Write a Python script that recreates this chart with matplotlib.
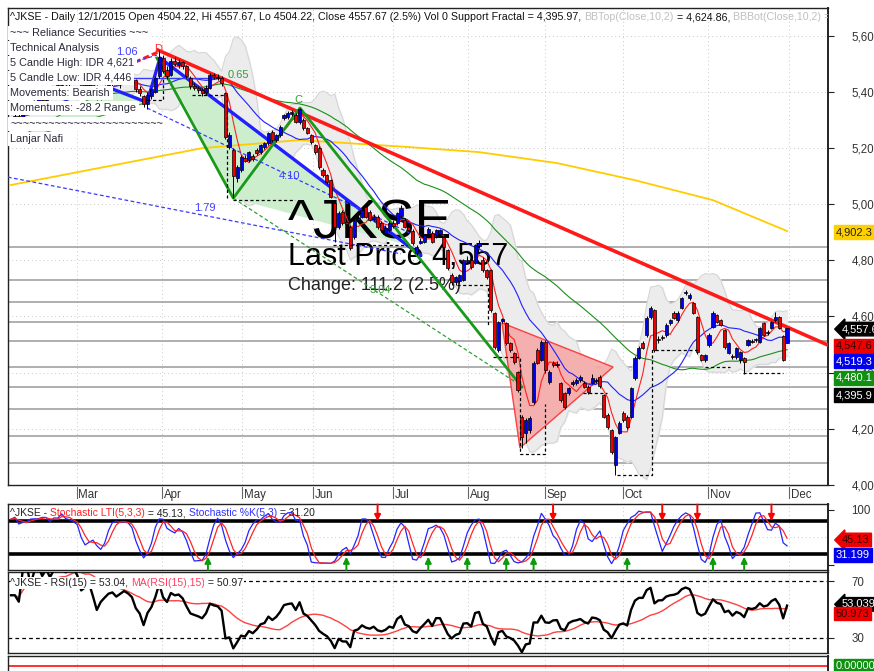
import matplotlib
matplotlib.use("Agg")
import matplotlib.pyplot as plt
import matplotlib.transforms as mtrans
import numpy as np
import pandas as pd

plt.rcParams['font.family'] = ['Liberation Sans', 'DejaVu Sans']

# ---- daily bars, ^JKSE Feb .. 1 Dec 2015 ----
opens = [5285, 5295, 5315, 5300, 5330, 5345, 5330, 5365, 5380, 5370,
         5395, 5385, 5415, 5425, 5440, 5430, 5445, 5450, 5440, 5415,
         5425, 5440, 5415, 5380, 5405, 5420, 5435, 5440, 5430, 5440,
         5450, 5450, 5440, 5410, 5385, 5355, 5385, 5400, 5455, 5520,
         5478, 5460, 5510, 5495, 5505, 5490, 5450, 5420, 5412, 5405,
         5400, 5415, 5458, 5452, 5448, 5395, 5203, 5192, 5093, 5121,
         5165, 5157, 5170, 5192, 5185, 5202, 5217, 5256, 5228, 5245,
         5306, 5310, 5320, 5317, 5292, 5300, 5270, 5245, 5210, 5200,
         5121, 5103, 5085, 5004, 4918, 4972, 4935, 4918, 4883, 4945,
         4954, 4990, 4972, 4948, 4954, 4932, 4897, 4907, 4932, 4932,
         4958, 4945, 4918, 4905, 4826, 4862, 4865, 4898, 4897, 4890,
         4893, 4883, 4836, 4747, 4722, 4725, 4730, 4795, 4800, 4790,
         4850, 4800, 4765, 4765, 4612, 4480, 4585, 4577, 4505, 4470,
         4402, 4242, 4185, 4196, 4295, 4480, 4445, 4509, 4366, 4434,
         4427, 4363, 4327, 4327, 4360, 4363, 4373, 4363, 4349, 4363,
         4370, 4384, 4320, 4249, 4196, 4071, 4185, 4256, 4242, 4242,
         4381, 4452, 4505, 4534, 4598, 4623, 4515, 4528, 4534, 4577,
         4612, 4587, 4630, 4683, 4665, 4648, 4598, 4462, 4445, 4498,
         4562, 4605, 4587, 4552, 4470, 4458, 4455, 4445, 4452, 4498,
         4512, 4515, 4509, 4577, 4540, 4559, 4587, 4598, 4530, 4504.22]
highs = [5300, 5320, 5330, 5335, 5350, 5355, 5370, 5385, 5390, 5400,
         5410, 5420, 5430, 5445, 5455, 5450, 5460, 5465, 5450, 5430,
         5445, 5450, 5425, 5410, 5425, 5440, 5450, 5455, 5445, 5455,
         5460, 5458, 5445, 5420, 5390, 5400, 5415, 5455, 5548, 5530,
         5490, 5520, 5525, 5515, 5510, 5495, 5455, 5430, 5420, 5415,
         5425, 5465, 5465, 5462, 5455, 5400, 5255, 5200, 5140, 5175,
         5175, 5190, 5180, 5198, 5215, 5222, 5258, 5262, 5250, 5280,
         5320, 5330, 5335, 5325, 5342, 5305, 5275, 5250, 5215, 5205,
         5128, 5108, 5090, 5010, 4975, 4980, 4945, 4925, 4950, 4965,
         4985, 4995, 4978, 4965, 4962, 4940, 4925, 4938, 4945, 4972,
         4995, 4952, 4925, 4912, 4855, 4880, 4895, 4920, 4905, 4912,
         4912, 4890, 4840, 4755, 4745, 4752, 4805, 4815, 4810, 4858,
         4872, 4810, 4770, 4768, 4615, 4585, 4595, 4582, 4510, 4475,
         4405, 4250, 4240, 4245, 4440, 4488, 4515, 4515, 4408, 4440,
         4440, 4368, 4332, 4350, 4372, 4380, 4392, 4370, 4355, 4395,
         4380, 4390, 4325, 4255, 4200, 4175, 4228, 4262, 4248, 4350,
         4458, 4495, 4512, 4600, 4636, 4628, 4530, 4535, 4575, 4592,
         4618, 4618, 4670, 4695, 4682, 4652, 4602, 4466, 4468, 4540,
         4618, 4610, 4592, 4556, 4510, 4465, 4492, 4478, 4456, 4520,
         4518, 4525, 4562, 4582, 4550, 4584, 4616, 4603, 4535, 4557.67]
lows = [5270, 5285, 5290, 5295, 5320, 5320, 5325, 5355, 5360, 5365,
        5380, 5380, 5400, 5415, 5425, 5420, 5435, 5435, 5405, 5395,
        5420, 5410, 5370, 5370, 5395, 5410, 5420, 5425, 5415, 5430,
        5435, 5430, 5400, 5385, 5345, 5340, 5375, 5395, 5450, 5465,
        5445, 5455, 5490, 5485, 5480, 5450, 5410, 5405, 5395, 5385,
        5390, 5410, 5445, 5440, 5420, 5230, 5195, 5021, 5080, 5115,
        5150, 5150, 5155, 5175, 5180, 5196, 5210, 5222, 5220, 5240,
        5300, 5302, 5312, 5288, 5286, 5265, 5248, 5215, 5180, 5125,
        5098, 5072, 5020, 4865, 4910, 4925, 4920, 4835, 4875, 4940,
        4950, 4950, 4938, 4940, 4912, 4902, 4890, 4900, 4915, 4925,
        4950, 4915, 4902, 4855, 4818, 4858, 4860, 4890, 4860, 4880,
        4885, 4842, 4765, 4712, 4712, 4718, 4725, 4790, 4770, 4785,
        4845, 4760, 4735, 4615, 4485, 4475, 4575, 4500, 4475, 4430,
        4330, 4130, 4150, 4185, 4290, 4430, 4440, 4400, 4360, 4420,
        4420, 4295, 4270, 4320, 4352, 4355, 4368, 4345, 4325, 4358,
        4362, 4345, 4238, 4200, 4112, 4036, 4180, 4225, 4200, 4238,
        4375, 4448, 4484, 4528, 4592, 4475, 4505, 4515, 4528, 4570,
        4590, 4582, 4625, 4678, 4660, 4608, 4468, 4440, 4438, 4492,
        4558, 4575, 4565, 4485, 4465, 4448, 4450, 4435, 4396, 4494,
        4505, 4510, 4505, 4530, 4535, 4555, 4582, 4555, 4440, 4504.22]
closes = [5295, 5315, 5300, 5330, 5345, 5330, 5365, 5380, 5370, 5395,
          5385, 5415, 5425, 5440, 5430, 5445, 5450, 5440, 5415, 5425,
          5440, 5415, 5380, 5405, 5420, 5435, 5440, 5430, 5440, 5450,
          5445, 5437, 5410, 5395, 5355, 5390, 5410, 5450, 5525, 5475,
          5455, 5510, 5500, 5505, 5490, 5455, 5420, 5412, 5405, 5395,
          5415, 5459, 5452, 5448, 5430, 5240, 5245, 5100, 5132, 5167,
          5155, 5185, 5162, 5182, 5210, 5217, 5253, 5228, 5245, 5274,
          5317, 5324, 5328, 5292, 5340, 5270, 5253, 5220, 5185, 5132,
          5103, 5078, 5025, 4918, 4968, 4932, 4930, 4843, 4943, 4952,
          4979, 4954, 4943, 4955, 4918, 4907, 4915, 4932, 4922, 4968,
          4985, 4920, 4907, 4862, 4847, 4870, 4890, 4912, 4865, 4907,
          4907, 4847, 4772, 4722, 4740, 4747, 4800, 4802, 4775, 4854,
          4861, 4765, 4740, 4622, 4491, 4580, 4590, 4505, 4480, 4438,
          4338, 4170, 4231, 4238, 4434, 4434, 4509, 4409, 4402, 4427,
          4430, 4302, 4278, 4345, 4365, 4373, 4384, 4349, 4331, 4380,
          4373, 4352, 4242, 4206, 4117, 4171, 4221, 4231, 4206, 4345,
          4452, 4488, 4488, 4594, 4630, 4480, 4520, 4522, 4570, 4587,
          4594, 4612, 4665, 4687, 4676, 4612, 4473, 4445, 4462, 4534,
          4612, 4580, 4569, 4491, 4505, 4455, 4488, 4473, 4438, 4516,
          4508, 4520, 4559, 4534, 4543, 4580, 4598, 4559, 4446.5, 4557.67]

month_labels = ["Mar", "Apr", "May", "Jun", "Jul", "Aug", "Sep", "Oct", "Nov", "Dec"]
month_pos = [16.8, 38.6, 59.2, 77.4, 97.9, 117.2, 136.9, 156.9, 178.7, 199.6]
price_ticks = [4000, 4200, 4400, 4600, 4800, 5000, 5200, 5400, 5600]

# long moving average (yellow), read at a few bars
yellow_bar = [0, 49, 74, 102, 120, 140, 160, 180, 199]
yellow_val = [5068, 5199, 5228, 5203, 5185, 5146, 5085, 5014, 4904]

# support / resistance levels (grey)
level_prices = [4847, 4730, 4651, 4580, 4512, 4420, 4349, 4270, 4174, 4078]

# harmonic pattern drawing (bar, price)
red_trend = [(37.7, 5548), (209.5, 4498)]
red_short = [(31.8, 5505), (37.7, 5541)]
blue_thick = [(25.4, 5413), (34.9, 5362), (38.2, 5520), (105, 4818)]
blue_flat = [(31.3, 5448), (53.6, 5448)]
green_thick = [(37.4, 5520), (57, 5021), (74.1, 5342), (131, 4349)]
green_tri1 = [(-1, 5215), (25.4, 5413), (34.9, 5362)]
green_tri2 = [(38.2, 5520), (57, 5021), (100, 4860)]
blue_dash = [[(-0.8, 5096), (100, 4823)], [(34.9, 5342), (102.3, 4897)],
             [(26, 5484), (37.4, 5530)]]
green_dash = [[(57, 5021), (130.5, 4356)]]
red_tri = [(125.9, 4577), (130.5, 4132), (154.4, 4420)]
ratio_labels = [("1.06", 29.7, 5541, "#4040ff"), ("D", 37.6, 5552, "#ff3030"),
                ("0.65", 58.4, 5459, "#33a033"), ("C", 73.6, 5372, "#33a033"),
                ("4.10", 71.5, 5100, "#4040ff"), ("1.79", 49.7, 4986, "#4040ff"),
                ("3.04", 94.6, 4694, "#33a033")]

# 5 candle support fractal steps (dashed black)
fractal_steps = [
    [(34.9, 5370), (39, 5370), (39, 5448)],
    [(46.4, 5388), (55.4, 5388), (55.4, 5021)],
    [(57, 5014), (72.8, 5014)],
    [(82.6, 4854), (101.5, 4854)],
    [(114.4, 4712), (122.3, 4712), (122.3, 4570)],
    [(123.6, 4455), (130.5, 4455), (130.5, 4110), (137, 4110), (137, 4290)],
    [(146.7, 4327), (152.8, 4327)],
    [(155.4, 4036), (164.4, 4036), (164.4, 4480), (176.7, 4480)],
    [(178, 4420), (184.4, 4420)],
    [(187.7, 4398), (198, 4398)],
]

sell_arrows = [94, 139, 167, 176, 195]
buy_arrows = [50.5, 86, 107, 117, 127, 134, 158, 180, 188]

# ---- indicators ----
df = pd.DataFrame({"o": opens, "h": highs, "l": lows, "c": closes})
n = len(df)
x = np.arange(n)
ma5 = df.c.rolling(5, min_periods=1).mean()
ma20 = df.c.rolling(20, min_periods=1).mean()
ma50 = df.c.rolling(50, min_periods=1).mean()
bb_mid = df.c.rolling(10, min_periods=1).mean()
bb_sd = df.c.rolling(10, min_periods=2).std(ddof=0).bfill()
bb_top = bb_mid + 2 * bb_sd
bb_bot = bb_mid - 2 * bb_sd

ll = df.l.rolling(5, min_periods=1).min()
hh = df.h.rolling(5, min_periods=1).max()
raw_k = 100 * (df.c - ll) / (hh - ll)
stoch_k = raw_k.rolling(3, min_periods=1).mean()
stoch_d = stoch_k.rolling(3, min_periods=1).mean()

delta = df.c.diff().fillna(0)
gain = delta.clip(lower=0).ewm(alpha=1 / 15, adjust=False).mean()
loss = (-delta.clip(upper=0)).ewm(alpha=1 / 15, adjust=False).mean()
rsi = 100 - 100 / (1 + gain / loss.replace(0, np.nan))
rsi = rsi.fillna(60)
rsi_ma = rsi.rolling(15, min_periods=1).mean()

# ---- layout (pixel boxes) ----
W, H = 874, 671
fig = plt.figure(figsize=(W / 100, H / 100), dpi=100)


def box(l, t, r, b):
    return [l / W, 1 - b / H, (r - l) / W, (b - t) / H]


ax = fig.add_axes(box(8, 8, 828, 485))
ax_st = fig.add_axes(box(8, 504, 828, 570))
ax_rsi = fig.add_axes(box(8, 572, 828, 653))
ax_b = fig.add_axes(box(8, 656, 828, 690))

XL = (-0.77, 209.5)
for a in (ax, ax_st, ax_rsi, ax_b):
    a.set_xlim(*XL)
    a.set_xticks([])
    a.yaxis.tick_right()
    for s in a.spines.values():
        s.set_color("#222222")
        s.set_linewidth(1.0)
    a.spines["right"].set_linewidth(1.4)
    for mp in month_pos:
        a.axvline(mp, color="#c8c8c8", lw=0.7, ls=(0, (1, 3)), zorder=0)
    a.tick_params(axis="y", length=4, width=0.8, pad=13, labelsize=8.3,
                  labelcolor="#333333", color="#222222")

# ---- main price panel ----
ax.set_ylim(4000, 5698)
ax.set_yticks(price_ticks)
ax.set_yticklabels([f"{p:,}" for p in price_ticks])
for p in price_ticks:
    ax.axhline(p, color="#c8c8c8", lw=0.7, ls=(0, (1, 3)), zorder=0)
for lp in level_prices:
    ax.axhline(lp, color="#9a9a9a", lw=1.1, zorder=1)

ax.fill_between(x, bb_bot, bb_top, color="#ececec", zorder=1)
ax.plot(x, bb_top, color="#d4d4d4", lw=0.7, zorder=1)
ax.plot(x, bb_bot, color="#d4d4d4", lw=0.7, zorder=1)

ax.add_patch(plt.Polygon(green_tri1, closed=True, fc="#cdeecd", ec="#2ea02e", lw=0.8, zorder=1.5))
ax.add_patch(plt.Polygon(green_tri2, closed=True, fc="#cdeecd", ec="none", zorder=1.5))
ax.add_patch(plt.Polygon(red_tri, closed=True, fc="#f6a9a9", ec="#ff3030", lw=1.0, alpha=0.9, zorder=1.5))

ax.text(71, 4879, "^JKSE", fontsize=40, color="black", zorder=2)
ax.text(71, 4783, "Last Price 4,557", fontsize=22, color="black", zorder=2)
ax.text(71, 4694, "Change: 111.2 (2.5%)", fontsize=13, color="#222222", zorder=2)

ax.plot(yellow_bar, yellow_val, color="#ffcc00", lw=1.3, zorder=2.5)
ax.plot(x, ma50, color="#1a8f1a", lw=0.8, zorder=2.6)
ax.plot(x, ma20, color="#2020ff", lw=0.8, zorder=2.6)
ax.plot(x, ma5, color="#ff2020", lw=0.8, zorder=2.6)


def seg(pts, **kw):
    xs, ys = zip(*pts)
    ax.plot(xs, ys, **kw)


seg(red_trend, color="#ff1a1a", lw=2.6, zorder=3)
seg(red_short, color="#ff1a1a", lw=2.2, ls=(0, (2, 1)), zorder=3)
seg(blue_thick, color="#1f1fff", lw=2.4, zorder=3)
seg(blue_flat, color="#3a3aff", lw=1.0, zorder=3)
seg(green_thick, color="#1a9a1a", lw=2.0, zorder=3)
for pts in blue_dash:
    seg(pts, color="#3a3aff", lw=0.9, ls=(0, (3, 2)), zorder=3)
for pts in green_dash:
    seg(pts, color="#33a033", lw=0.9, ls=(0, (3, 2)), zorder=3)
for txt, bx, by, col in ratio_labels:
    ax.text(bx, by, txt, color=col, fontsize=8, va="center", ha="center", zorder=3.2)

# candles
o = np.array(opens)
c = np.array(closes)
up = c >= o
body_lo = np.minimum(o, c)
body_h = np.maximum(np.abs(c - o), 3)
ax.vlines(x, lows, highs, color="black", lw=0.7, zorder=4)
ax.bar(x[up], body_h[up], bottom=body_lo[up], width=0.8, color="#0000ee",
       edgecolor="black", linewidth=0.5, zorder=4.1)
ax.bar(x[~up], body_h[~up], bottom=body_lo[~up], width=0.8, color="#ee0000",
       edgecolor="black", linewidth=0.5, zorder=4.1)

for pts in fractal_steps:
    seg(pts, color="black", lw=0.9, ls=(0, (2.5, 2)), zorder=4.5)

# month labels under the main panel
xb = mtrans.blended_transform_factory(ax.transData, ax.transAxes)
for mp, lab in zip(month_pos, month_labels):
    ax.plot([mp, mp], [-0.005, -0.028], transform=xb, color="#666666", lw=0.8, clip_on=False)
    ax.text(mp + 0.5, -0.008, lab, transform=xb, fontsize=8.3, color="#333333", va="top", ha="left")


def chain(a, x0, y0, parts, size=7.8, clip=False, **kw):
    t = a.text(x0, y0, parts[0][0], color=parts[0][1], transform=a.transAxes,
               va="bottom", ha="left", fontsize=size, zorder=7, **kw)
    out = [t]
    for s, col in parts[1:]:
        t = a.annotate(s, xy=(1, 0), xycoords=t, va="bottom", ha="left",
                       color=col, fontsize=size, zorder=7, **kw)
        out.append(t)
    if clip:
        for t in out:
            t.set_clip_box(a.bbox)
            t.set_clip_on(True)
    return out


chain(ax, 0.003, 1 - 14 / 477, [
    ("^JKSE - Daily 12/1/2015 Open 4504.22, Hi 4557.67, Lo 4504.22, Close 4557.67 (2.5%) Vol 0 Support Fractal = 4,395.97, ", "#111111"),
    ("BBTop(Close,10,2)", "#c0c0c0"),
    (" = 4,624.86, ", "#111111"),
    ("BBBot(Close,10,2) = 4,456.24", "#c0c0c0")], size=7.7, clip=True)

info_lines = ["~~~ Reliance Securities ~~~", "Technical Analysis", "5 Candle High: IDR 4,621",
              "5 Candle Low: IDR 4,446", "Movements: Bearish", "Momentums: -28.2 Range",
              "~~~~~~~~~~~~~~~~~~~~~~~~", "Lanjar Nafi"]
info_y = [33, 48, 63, 78, 93, 108, 124, 139]
for txt, py in zip(info_lines, info_y):
    ax.text(0.003, 1 - (py - 8) / 477, txt, transform=ax.transAxes, fontsize=7.8,
            color="#2a2a3a", va="center", ha="left", zorder=6,
            bbox=dict(fc="white", ec="none", pad=1.8))


def tag(a, yv, txt, fc, tc="white", arrow=False):
    tr = mtrans.blended_transform_factory(a.transAxes, a.transData)
    style = "larrow,pad=0.16" if arrow else "square,pad=0.16"
    a.text(1.0095 if not arrow else 1.017, yv, txt, transform=tr, fontsize=8, color=tc,
           va="center", ha="left", zorder=8, clip_on=False,
           bbox=dict(boxstyle=style, fc=fc, ec=fc))


tag(ax, 4900, "4,902.3", "#ffd000", tc="#222222")
tag(ax, 4555, "4,557.6", "black", arrow=True)
tag(ax, 4495, "4,547.6", "#ee0000", tc="#330000")
tag(ax, 4441, "4,519.3", "#0000ee")
tag(ax, 4381, "4,480.1", "#109010")
tag(ax, 4320, "4,395.9", "black")

# ---- stochastic panel ----
ax_st.set_ylim(-9.1, 110.9)
ax_st.set_yticks([0, 100])
ax_st.set_yticklabels(["", "100"])
ax_st.axhline(50, color="#c8c8c8", lw=0.7, ls=(0, (1, 3)), zorder=0)
ax_st.axhline(80, color="black", lw=2.6, zorder=1)
ax_st.axhline(20, color="black", lw=2.6, zorder=1)
ax_st.plot(x, stoch_k, color="#2424ff", lw=0.9, zorder=2)
ax_st.plot(x, stoch_d, color="#ff2424", lw=0.9, zorder=2)
for b in sell_arrows:
    ax_st.annotate("", xy=(b, 80), xytext=(b, 110), zorder=3,
                   arrowprops=dict(arrowstyle="-|>", color="#ff0000", lw=1.4, mutation_scale=9,
                                   shrinkA=0, shrinkB=0))
for b in buy_arrows:
    ax_st.annotate("", xy=(b, 15), xytext=(b, -9), zorder=3,
                   arrowprops=dict(arrowstyle="-|>", color="#0a9a0a", lw=1.4, mutation_scale=9,
                                   shrinkA=0, shrinkB=0))
chain(ax_st, 0.003, 1 - 14 / 66, [("^JKSE - ", "#222222"), ("Stochastic LTI(5,3,3)", "#ff2020"),
                                   (" = 45.13, ", "#222222"), ("Stochastic %K(5,3)", "#3030ff"),
                                   (" = 31.20", "#222222")], size=7.5)
tag(ax_st, 45.5, "45.13", "#ee0000", tc="#330000", arrow=True)
tag(ax_st, 18.2, "31.199", "#0000ee")

# ---- RSI panel ----
ax_rsi.set_ylim(19.3, 76.4)
ax_rsi.set_yticks([30, 70])
ax_rsi.set_yticklabels(["30", "70"])
ax_rsi.axhline(70, color="black", lw=0.9, ls=(0, (3, 2.5)), zorder=1)
ax_rsi.axhline(30, color="black", lw=0.9, ls=(0, (3, 2.5)), zorder=1)
ax_rsi.plot(x, rsi_ma, color="#ff4040", lw=1.0, zorder=2)
ax_rsi.plot(x, rsi, color="black", lw=1.7, zorder=3)
chain(ax_rsi, 0.003, 1 - 16 / 81, [("^JKSE - RSI(15) = 53.04, ", "#222222"), ("MA(RSI(15),15)", "#ff4060"),
                                    (" = 50.97", "#222222")], size=7.6,
      bbox=dict(fc="white", ec="none", pad=0.5))
tag(ax_rsi, 53.6, "53.039", "black", arrow=True)
tag(ax_rsi, 47.1, "50.973", "#ee0000", tc="#330000")

# ---- bottom strip ----
ax_b.set_ylim(-2.4, 1.0)
ax_b.set_yticks([])
ax_b.axhline(0, color="#ff2020", lw=1.3)
tag(ax_b, 0, "0.00000", "#109010")

fig.savefig("out.png", dpi=100)
